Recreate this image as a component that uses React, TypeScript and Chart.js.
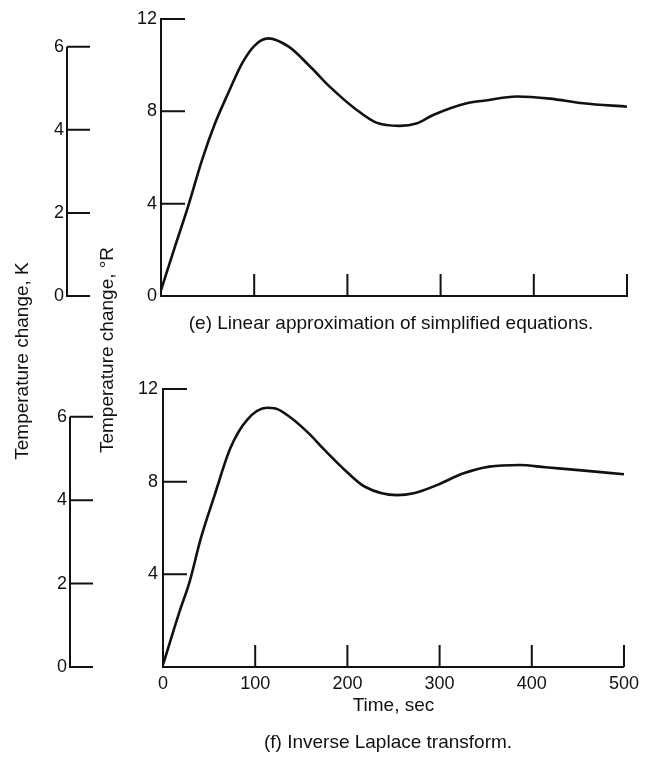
import { useEffect, useRef } from 'react';
import { Chart, registerables } from 'chart.js';

Chart.register(...registerables);

// ---- data ----
const timeE = [0, 15, 29, 44, 58, 72, 87, 101, 115, 137, 161, 181, 210, 231, 256, 274, 292, 328, 346, 382, 417, 453, 500];
const tempE = [0.25, 2.14, 3.87, 5.89, 7.48, 8.78, 10.08, 10.87, 11.16, 10.8, 9.9, 9.07, 8.06, 7.51, 7.37, 7.47, 7.84, 8.35, 8.46, 8.64, 8.55, 8.35, 8.2];

const timeF = [0, 18, 29, 41, 56, 73, 91, 113, 122, 138, 159, 172, 201, 219, 254, 272, 297, 326, 354, 387, 415, 451, 500];
const tempF = [0.1, 2.4, 3.7, 5.55, 7.42, 9.44, 10.66, 11.19, 11.16, 10.78, 10.05, 9.5, 8.36, 7.78, 7.42, 7.5, 7.85, 8.36, 8.65, 8.72, 8.62, 8.5, 8.32];

const rTicksE = [0, 4, 8, 12];
const rTicksF = [4, 8, 12];
const kTicks = [0, 2, 4, 6];
const timeTicks = [0, 100, 200, 300, 400, 500];

const R_MAX = 12;
const R_PER_K = 1.8;

const captionE = '(e) Linear approximation of simplified equations.';
const captionF = '(f) Inverse Laplace transform.';
const yTitleR = 'Temperature change, °R';
const yTitleK = 'Temperature change, K';
const xTitle = 'Time, sec';

const FONT = "'Liberation Sans', Arial, sans-serif";
const INK = '#111111';

const W = 645;
const H = 759;

const decorPlugin = {
  id: 'decor',
  afterDraw(chart: any, _args: any, opts: any) {
    const { ctx, chartArea } = chart;
    const xs = chart.scales.x;
    const ys = chart.scales.y;
    const ks = chart.scales.k;
    ctx.save();
    ctx.strokeStyle = INK;
    ctx.lineWidth = 2;
    ctx.beginPath();
    ys.ticks.forEach((t: any) => {
      if (t.value === 0) return;
      const py = ys.getPixelForValue(t.value);
      ctx.moveTo(chartArea.left, py);
      ctx.lineTo(chartArea.left + opts.yTick, py);
    });
    xs.ticks.forEach((t: any) => {
      if (t.value === 0) return;
      const px = xs.getPixelForValue(t.value);
      ctx.moveTo(px, chartArea.bottom);
      ctx.lineTo(px, chartArea.bottom - opts.xTick);
    });
    const kx = ks.right;
    const kTop = ks.getPixelForValue(ks.ticks[ks.ticks.length - 1].value);
    ctx.moveTo(kx, ks.getPixelForValue(0) + 1);
    ctx.lineTo(kx, kTop);
    ks.ticks.forEach((t: any) => {
      const py = ks.getPixelForValue(t.value);
      ctx.moveTo(kx, py);
      ctx.lineTo(kx + opts.kTick, py);
    });
    ctx.stroke();

    ctx.fillStyle = INK;
    ctx.font = `${opts.fontSize}px ${FONT}`;
    ctx.textAlign = 'center';
    ctx.textBaseline = 'middle';
    ctx.fillText(opts.caption, opts.captionX, opts.captionY);

    if (opts.sharedTitles) {
      const drawRot = (text: string, cx: number, cy: number) => {
        ctx.save();
        ctx.translate(cx, cy);
        ctx.rotate(-Math.PI / 2);
        ctx.fillText(text, 0, 0);
        ctx.restore();
      };
      drawRot(yTitleK, 23, 361);
      drawRot(yTitleR, 108, 350);
    }
    ctx.restore();
  },
};

function makeConfig(p: any) {
  const tickFont = { family: FONT, size: 18 };
  return {
    type: 'line',
    data: {
      datasets: [
        {
          data: p.time.map((t: number, i: number) => ({ x: t, y: p.temp[i] })),
          borderColor: INK,
          borderWidth: 2.6,
          pointRadius: 0,
          fill: false,
          cubicInterpolationMode: 'monotone',
        },
      ],
    },
    options: {
      animation: false,
      responsive: false,
      devicePixelRatio: 1,
      layout: { padding: p.padding },
      plugins: {
        legend: { display: false },
        tooltip: { enabled: false },
        decor: p.decor,
      },
      scales: {
        x: {
          type: 'linear',
          position: 'bottom',
          min: 0,
          max: 500,
          afterBuildTicks: (s: any) => {
            s.ticks = timeTicks.map((v) => ({ value: v }));
          },
          afterFit: (s: any) => {
            s.height = p.xHeight;
          },
          ticks: {
            display: p.xLabels,
            font: tickFont,
            color: INK,
            padding: 6,
            maxRotation: 0,
            minRotation: 0,
          },
          grid: { drawOnChartArea: false, drawTicks: false },
          border: { color: INK, width: 2 },
          title: {
            display: p.xLabels,
            text: xTitle,
            font: { family: FONT, size: 19 },
            color: INK,
            padding: { top: 0, bottom: 0 },
          },
        },
        y: {
          type: 'linear',
          position: 'left',
          weight: 1,
          min: 0,
          max: R_MAX,
          afterBuildTicks: (s: any) => {
            s.ticks = p.rTicks.map((v: number) => ({ value: v }));
          },
          afterFit: (s: any) => {
            s.width = p.rWidth;
          },
          ticks: { font: tickFont, color: INK, padding: p.rPad },
          grid: { drawOnChartArea: false, drawTicks: false },
          border: { color: INK, width: 2 },
        },
        k: {
          type: 'linear',
          position: 'left',
          weight: 2,
          min: 0,
          max: R_MAX / R_PER_K,
          afterBuildTicks: (s: any) => {
            s.ticks = kTicks.map((v) => ({ value: v }));
          },
          afterFit: (s: any) => {
            s.width = p.kWidth;
          },
          ticks: { font: tickFont, color: INK, padding: 3 },
          grid: { drawOnChartArea: false, drawTicks: false },
          border: { display: false },
        },
      },
    },
    plugins: [decorPlugin],
  };
}

export default function App() {
  const refE = useRef<HTMLCanvasElement>(null);
  const refF = useRef<HTMLCanvasElement>(null);

  useEffect(() => {
    const cE = new Chart(
      refE.current as HTMLCanvasElement,
      makeConfig({
        time: timeE,
        temp: tempE,
        rTicks: rTicksE,
        padding: { left: 0, top: 19, right: 18, bottom: H - 296 },
        xHeight: 0,
        xLabels: false,
        rWidth: 94,
        kWidth: 67,
        rPad: 4,
        decor: {
          yTick: 24,
          xTick: 22,
          kTick: 23,
          caption: captionE,
          captionX: 391,
          captionY: 324,
          fontSize: 19,
          sharedTitles: false,
        },
      }) as any
    );
    const cF = new Chart(
      refF.current as HTMLCanvasElement,
      makeConfig({
        time: timeF,
        temp: tempF,
        rTicks: rTicksF,
        padding: { left: 0, top: 389, right: 16, bottom: H - 717 },
        xHeight: 50,
        xLabels: true,
        rWidth: 93,
        kWidth: 70,
        rPad: 5,
        decor: {
          yTick: 24,
          xTick: 22,
          kTick: 23,
          caption: captionF,
          captionX: 388,
          captionY: 743,
          fontSize: 19,
          sharedTitles: true,
        },
      }) as any
    );
    return () => {
      cE.destroy();
      cF.destroy();
    };
  }, []);

  const cs: any = { position: 'absolute', left: 0, top: 0 };
  return (
    <div style={{ position: 'absolute', left: 0, top: 0, width: W, height: H, background: '#ffffff' }}>
      <canvas ref={refE} width={W} height={H} style={cs} />
      <canvas ref={refF} width={W} height={H} style={cs} />
    </div>
  );
}
